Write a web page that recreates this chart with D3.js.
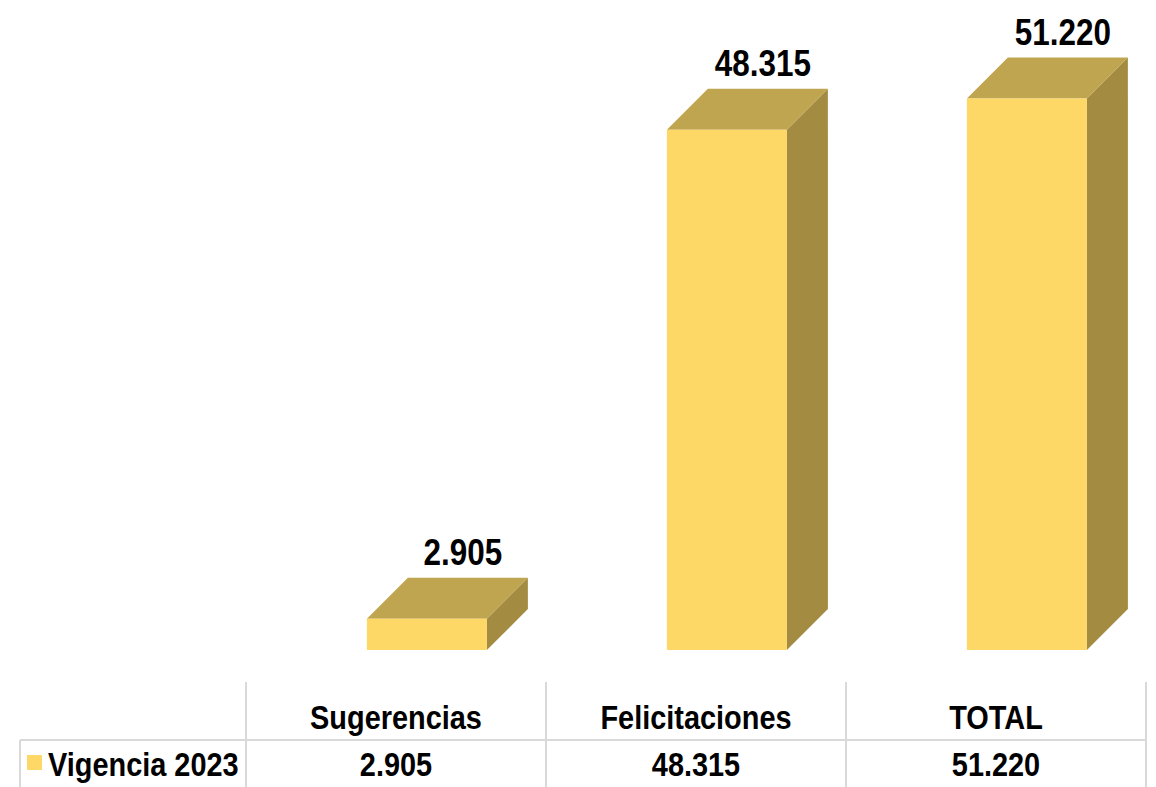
<!DOCTYPE html>
<html><head><meta charset="utf-8">
<script src="https://cdn.jsdelivr.net/npm/d3@7/dist/d3.min.js"></script>
<style>
html,body{margin:0;padding:0;background:#fff;}
svg{display:block;}
text{font-family:"Liberation Sans Narrow","Arial Narrow","Liberation Sans",Arial,sans-serif;font-weight:bold;fill:#000;}
</style></head>
<body>
<script>
const categories = ["Sugerencias", "Felicitaciones", "TOTAL"];
const values = [2905, 48315, 51220];
const valueLabels = ["2.905", "48.315", "51.220"];
const seriesName = "Vigencia 2023";

const W = 1156, H = 787;
const svg = d3.select("body").append("svg").attr("width", W).attr("height", H);

const x = d3.scaleBand().domain(categories).range([246, 1146]);
const y = d3.scaleLinear().domain([0, 51220]).range([650, 98.5]);

const bw = x.bandwidth();
const frontOff = bw * 0.403, frontW = bw * 0.4, depth = 41;
const cFront = "#FDD867", cTop = "#C0A550", cSide = "#A38C42";
const SX = 0.85;

function label(sel, tx, ty, txt, size, anchor) {
  return sel.append("text")
    .attr("transform", `translate(${tx},${ty}) scale(${SX},1)`)
    .attr("text-anchor", anchor || "middle")
    .attr("font-size", size).text(txt);
}

const g = svg.append("g");
categories.forEach((c, i) => {
  const x0 = x(c) + frontOff, x1 = x0 + frontW;
  const yt = y(values[i]), yb = y(0);
  g.append("path").attr("d", `M${x1},${yt}L${x1+depth},${yt-depth}L${x1+depth},${yb-depth}L${x1},${yb}Z`).attr("fill", cSide);
  g.append("path").attr("d", `M${x0},${yt}L${x0+depth},${yt-depth}L${x1+depth},${yt-depth}L${x1},${yt}Z`).attr("fill", cTop);
  g.append("rect").attr("x", x0).attr("y", yt).attr("width", frontW).attr("height", yb - yt).attr("fill", cFront);
  label(g, x0 + 96, yt - depth - 13, valueLabels[i], 37);
});

// data table
const grid = "#d9d9d9";
const tTop = 682, tMid = 740, tBot = 787;
const lines = svg.append("g").attr("stroke", grid).attr("stroke-width", 2);
lines.append("line").attr("x1", 20).attr("x2", 1146).attr("y1", tMid).attr("y2", tMid);
lines.append("line").attr("x1", 20).attr("x2", 20).attr("y1", tMid).attr("y2", tBot);
[246, ...categories.map(c => x(c) + bw)].forEach(xv => {
  lines.append("line").attr("x1", xv).attr("x2", xv).attr("y1", tTop).attr("y2", tBot);
});
categories.forEach((c, i) => {
  const cx = x(c) + bw / 2;
  label(svg, cx, 729, c, 34);
  label(svg, cx, 776, valueLabels[i], 34);
});
svg.append("rect").attr("x", 27).attr("y", 755).attr("width", 15).attr("height", 15).attr("fill", cFront);
label(svg, 48, 776, seriesName, 34, "start");
</script>
</body></html>
